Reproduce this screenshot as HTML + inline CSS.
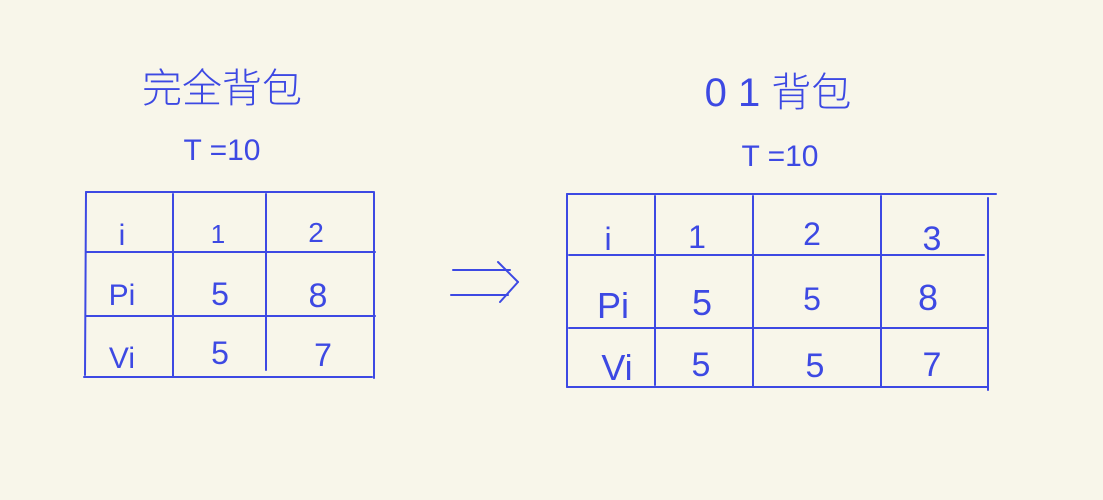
<!DOCTYPE html>
<html><head><meta charset="utf-8"><style>
html,body{margin:0;padding:0;background:#f8f6ea;}
svg{display:block}
text{font-family:"Liberation Sans","Noto Sans CJK SC",sans-serif;fill:#3d49e3;font-weight:300}
line{stroke:#3d49e3;stroke-width:2;stroke-linecap:round}
</style></head><body>
<svg width="1103" height="500" viewBox="0 0 1103 500">
<rect width="1103" height="500" fill="#f8f6ea"/>
<g>
<text x="222" y="102" font-size="40" text-anchor="middle">完全背包</text>
<text x="222" y="160" font-size="30" text-anchor="middle">T =10</text>
<g>
<line x1="86" y1="192" x2="373" y2="192"/>
<line x1="86" y1="252" x2="375" y2="252"/>
<line x1="86" y1="316" x2="375" y2="316"/>
<line x1="84" y1="377" x2="372" y2="377"/>
<line x1="86" y1="192" x2="85" y2="375"/>
<line x1="173" y1="194" x2="173" y2="377"/>
<line x1="266" y1="194" x2="266" y2="370"/>
<line x1="374" y1="192" x2="374" y2="378"/>
<text x="122" y="245" font-size="30" text-anchor="middle">i</text>
<text x="218" y="243" font-size="26" text-anchor="middle">1</text>
<text x="316" y="242" font-size="28" text-anchor="middle">2</text>
<text x="122" y="305" font-size="30" text-anchor="middle">Pi</text>
<text x="220" y="305" font-size="32" text-anchor="middle">5</text>
<text x="318" y="307" font-size="34" text-anchor="middle">8</text>
<text x="122" y="368" font-size="30" text-anchor="middle">Vi</text>
<text x="220" y="364" font-size="32" text-anchor="middle">5</text>
<text x="323" y="366" font-size="32" text-anchor="middle">7</text>
</g>
</g>
<g>
<line x1="453" y1="270" x2="510" y2="270"/>
<line x1="451" y1="295" x2="508" y2="295"/>
<line x1="498" y1="262" x2="518" y2="282"/>
<line x1="518" y1="282" x2="500" y2="302"/>
</g>
<g>
<text x="778" y="106" font-size="40" text-anchor="middle">0 1 背包</text>
<text x="780" y="166" font-size="30" text-anchor="middle">T =10</text>
<g>
<line x1="567" y1="194" x2="996" y2="194"/>
<line x1="569" y1="255" x2="984" y2="255"/>
<line x1="569" y1="328" x2="988" y2="328"/>
<line x1="567" y1="387" x2="988" y2="387"/>
<line x1="567" y1="194" x2="567" y2="387"/>
<line x1="655" y1="196" x2="655" y2="385"/>
<line x1="753" y1="196" x2="753" y2="387"/>
<line x1="881" y1="196" x2="881" y2="387"/>
<line x1="988" y1="198" x2="988" y2="390"/>
<text x="608" y="250" font-size="32" text-anchor="middle">i</text>
<text x="697" y="248" font-size="32" text-anchor="middle">1</text>
<text x="812" y="245" font-size="32" text-anchor="middle">2</text>
<text x="932" y="250" font-size="34" text-anchor="middle">3</text>
<text x="613" y="318" font-size="36" text-anchor="middle">Pi</text>
<text x="702" y="315" font-size="36" text-anchor="middle">5</text>
<text x="812" y="310" font-size="32" text-anchor="middle">5</text>
<text x="928" y="310" font-size="36" text-anchor="middle">8</text>
<text x="617" y="380" font-size="36" text-anchor="middle">Vi</text>
<text x="701" y="376" font-size="34" text-anchor="middle">5</text>
<text x="815" y="377" font-size="34" text-anchor="middle">5</text>
<text x="932" y="376" font-size="34" text-anchor="middle">7</text>
</g>
</g>
</svg>
</body></html>
